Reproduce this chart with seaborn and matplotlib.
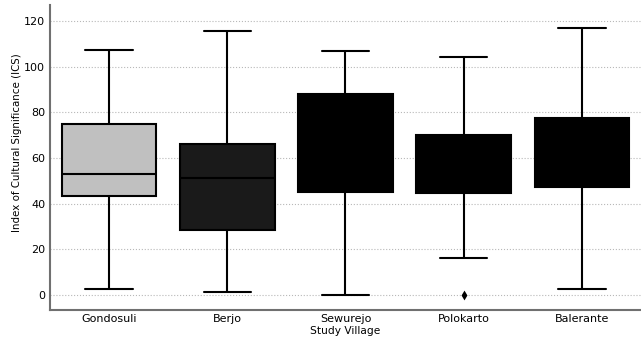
import matplotlib
matplotlib.use("Agg")
import matplotlib.pyplot as plt
import seaborn as sns
import pandas as pd

# Five-number summaries of the Index of Cultural Significance per village
villages = ["Gondosuli", "Berjo", "Sewurejo", "Polokarto", "Balerante"]
whisker_low = [2.8, 1.3, 0.0, 16.1, 2.5]
q1 = [43.4, 28.5, 45.3, 44.8, 47.4]
median = [52.9, 51.4, 62.0, 55.0, 60.0]
q3 = [74.7, 66.1, 88.2, 70.1, 77.7]
whisker_high = [107.3, 115.6, 107.0, 104.4, 116.8]

# Outlying observations
outlier_village = ["Polokarto"]
outlier_value = [0.0]

box_colors = ["#c0c0c0", "#1a1a1a", "#000000", "#000000", "#000000"]

rows = []
for i, v in enumerate(villages):
    for val in (whisker_low[i], q1[i], median[i], q3[i], whisker_high[i]):
        rows.append({"Study Village": v, "ICS": val})
df = pd.DataFrame(rows)
df_out = pd.DataFrame({"Study Village": outlier_village, "ICS": outlier_value})

sns.set_style("white")
plt.rcParams["font.family"] = ["DejaVu Sans"]
plt.rcParams["text.color"] = "black"
plt.rcParams["axes.labelcolor"] = "black"
plt.rcParams["xtick.labelcolor"] = "black"
plt.rcParams["ytick.labelcolor"] = "black"

fig = plt.figure(figsize=(6.41, 3.40), dpi=100)
ax = fig.add_axes([0.078, 0.088, 0.922, 0.897])

line_kw = dict(color="black", linewidth=1.5)
sns.boxplot(
    data=df, x="Study Village", y="ICS", order=villages,
    hue="Study Village", hue_order=villages, palette=box_colors,
    legend=False, width=0.8, whis=1.5, showfliers=False,
    boxprops=dict(edgecolor="black", linewidth=1.5),
    medianprops=line_kw, whiskerprops=line_kw, capprops=line_kw,
    ax=ax,
)
sns.stripplot(
    data=df_out, x="Study Village", y="ICS", order=villages,
    color="black", marker="d", size=5, jitter=False, ax=ax,
)

ax.set_xlim(-0.5, 4.5)
ax.set_ylim(-6.6, 127)
ax.set_yticks([0, 20, 40, 60, 80, 100, 120])
ax.yaxis.grid(True, linestyle=":", color="#b8b8b8", linewidth=0.8)
ax.set_axisbelow(True)

for side in ("top", "right"):
    ax.spines[side].set_visible(False)
for side in ("left", "bottom"):
    ax.spines[side].set_color("#707070")
    ax.spines[side].set_linewidth(1.5)

ax.tick_params(axis="both", direction="in", length=3, width=0.8,
               color="#707070", labelsize=8, labelcolor="black")
ax.tick_params(axis="x", pad=2.5)
ax.tick_params(axis="y", pad=3.5)
ax.set_xlabel("Study Village", fontsize=7.7, labelpad=2, color="black")
ax.set_ylabel("Index of Cultural Significance (ICS)", fontsize=7.4, color="black")
ax.yaxis.set_label_coords(-0.047, 0.548)

fig.savefig("out.png", dpi=100)
